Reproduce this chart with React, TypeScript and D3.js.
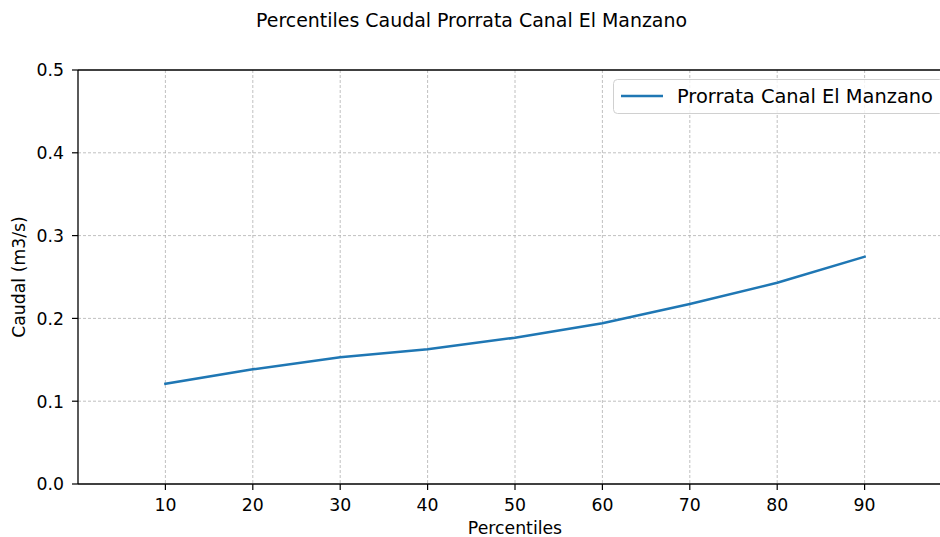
import React from "react";
import * as d3 from "d3";

const percentiles = [10, 20, 30, 40, 50, 60, 70, 80, 90];
const caudal = [0.121, 0.1385, 0.153, 0.1627, 0.1767, 0.1941, 0.2174, 0.2431, 0.2745];
const xTicks = [10, 20, 30, 40, 50, 60, 70, 80, 90];
const yTicks = [0, 0.1, 0.2, 0.3, 0.4, 0.5];
const title = "Percentiles Caudal Prorrata Canal El Manzano";
const seriesName = "Prorrata Canal El Manzano";

const W = 940;
const H = 537;
const FONT = "DejaVu Sans";

export default function App() {
  const left = 78, right = 952, top = 70, bottom = 484;
  const x = d3.scaleLinear().domain([0, 100]).range([left, right]);
  const y = d3.scaleLinear().domain([0, 0.5]).range([bottom, top]);
  const line = d3.line<number>().x((_, i) => x(percentiles[i])).y((d) => y(d));
  const fs = 17.3;
  return (
    <svg width={W} height={H} style={{ position: "absolute", left: 0, top: 0, background: "#fff" }} fontFamily={FONT}>
      <rect x={0} y={0} width={W} height={H} fill="#fff" />
      <text x={471.5} y={27} textAnchor="middle" fontSize={18.95} fill="#000">{title}</text>
      {xTicks.map((t) => (
        <line key={"gx" + t} x1={x(t)} x2={x(t)} y1={top} y2={bottom} stroke="#b0b0b0" strokeWidth={0.8} strokeDasharray="3,2" />
      ))}
      {yTicks.filter((t) => t > 0 && t < 0.5).map((t) => (
        <line key={"gy" + t} x1={left} x2={right} y1={y(t)} y2={y(t)} stroke="#b0b0b0" strokeWidth={0.8} strokeDasharray="3,2" />
      ))}
      <path d={line(caudal) || ""} fill="none" stroke="#1f77b4" strokeWidth={2.5} strokeLinecap="square" />
      <line x1={left} x2={right} y1={top} y2={top} stroke="#000" strokeWidth={1.3} />
      <line x1={left} x2={right} y1={bottom} y2={bottom} stroke="#000" strokeWidth={1.3} />
      <line x1={left} x2={left} y1={top} y2={bottom} stroke="#000" strokeWidth={1.3} />
      <line x1={right} x2={right} y1={top} y2={bottom} stroke="#000" strokeWidth={1.3} />
      {xTicks.map((t) => (
        <g key={"xt" + t}>
          <line x1={x(t)} x2={x(t)} y1={bottom} y2={bottom + 6} stroke="#000" strokeWidth={1.2} />
          <text x={x(t)} y={511} textAnchor="middle" fontSize={fs} fill="#000">{t}</text>
        </g>
      ))}
      {yTicks.map((t) => (
        <g key={"yt" + t}>
          <line x1={left - 6} x2={left} y1={y(t)} y2={y(t)} stroke="#000" strokeWidth={1.2} />
          <text x={64} y={y(t) + 6.3} textAnchor="end" fontSize={fs} fill="#000">{t.toFixed(1)}</text>
        </g>
      ))}
      <text x={515} y={533.5} textAnchor="middle" fontSize={fs} fill="#000">Percentiles</text>
      <text transform={`translate(25,${(top + bottom) / 2}) rotate(-90)`} textAnchor="middle" fontSize={fs} fill="#000">Caudal (m3/s)</text>
      <g>
        <rect x={613.5} y={79.5} width={330} height={34} rx={4} fill="#fff" fillOpacity={0.8} stroke="#d0d0d0" strokeWidth={1} />
        <line x1={621} x2={663} y1={96} y2={96} stroke="#1f77b4" strokeWidth={2.5} />
        <text x={677} y={103} fontSize={19.4} fill="#000">{seriesName}</text>
      </g>
    </svg>
  );
}
